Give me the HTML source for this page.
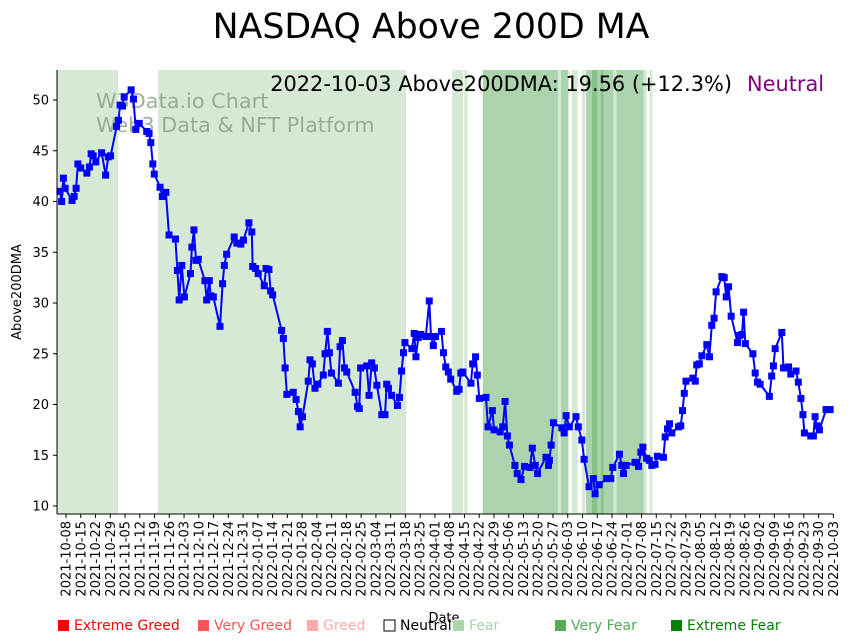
<!DOCTYPE html>
<html><head><meta charset="utf-8"><style>
body{margin:0;background:#fff;font-family:"Liberation Sans","DejaVu Sans",sans-serif}
svg{display:block}
</style></head><body>
<svg id="chart" width="852" height="642" viewBox="0 0 852 642" xmlns="http://www.w3.org/2000/svg" font-family="DejaVu Sans, Liberation Sans, sans-serif">
<text x="431" y="38" font-size="34.7" text-anchor="middle" fill="#000">NASDAQ Above 200D MA</text>
<g id="bands"></g>
<text x="96" y="108" font-size="20.8" fill="#8a9a8a" fill-opacity="0.8">W3Data.io Chart</text>
<text x="96" y="132" font-size="20.8" fill="#8a9a8a" fill-opacity="0.8">Web3 Data &amp; NFT Platform</text>
<g id="series"></g>
<text x="732" y="91" font-size="20.9" text-anchor="end" fill="#000">2022-10-03 Above200DMA: 19.56 (+12.3%)</text>
<text x="747" y="91" font-size="20.9" fill="#800080">Neutral</text>
<g id="axes"></g>
<text transform="translate(21,292) rotate(-90)" font-size="13" text-anchor="middle">Above200DMA</text>
<text x="444" y="622" font-size="13" text-anchor="middle">Date</text>
<g id="legend"></g>
</svg>
<script>
const dayIndex=[-2.1,-1.5,-0.9,-0.3,2.1,2.8,3.5,4.1,5.1,7.2,8.1,8.7,9.4,10.3,12.3,13.7,14.6,15.4,17.5,18.1,18.7,19.5,20.1,22.5,23.3,24.1,25.3,27.9,28.7,29.3,30.0,30.5,32.5,33.3,34.5,35.6,37.8,38.5,39.1,40.0,40.9,43.0,43.5,44.2,44.9,45.7,48.0,48.6,49.5,50.0,50.9,53.2,54.1,54.7,55.5,58.1,59.0,60.4,61.3,63.2,64.2,64.5,65.5,66.4,68.5,69.1,70.1,70.7,71.4,74.5,75.1,75.7,76.3,78.5,79.5,80.3,80.9,81.7,83.7,84.3,85.1,86.0,87.0,88.9,89.5,90.3,91.0,91.7,94.1,94.7,95.5,96.2,97.0,99.9,100.7,101.3,101.8,103.9,104.7,105.6,106.5,107.4,109.1,110.2,110.8,111.4,112.5,114.5,115.2,115.9,116.6,117.1,119.5,120.3,120.9,121.7,122.6,124.3,125.5,126.1,126.9,127.7,129.7,130.4,131.2,132.1,132.9,135.0,135.8,136.4,137.1,139.9,140.5,141.5,142.1,142.8,145.1,145.8,147.3,147.9,150.0,150.9,151.7,152.5,153.2,155.1,155.9,157.2,158.4,160.3,161.1,162.1,162.9,165.8,166.7,167.0,167.6,168.4,171.3,172.1,172.8,173.9,176.2,177.0,178.2,179.0,180.7,182.2,182.8,184.2,186.8,188.2,188.9,191.2,192.0,192.6,193.5,196.6,197.8,198.6,199.3,200.6,201.5,202.4,203.5,204.3,206.4,207.0,207.8,208.5,209.3,211.6,212.4,213.0,213.6,214.2,216.6,217.4,217.9,218.8,219.7,221.4,222.3,223.1,223.9,224.6,226.6,227.4,228.1,228.9,229.8,232.0,232.7,233.5,234.1,234.7,237.3,238.1,238.9,239.8,243.0,243.8,244.4,245.0,247.3,247.9,249.6,250.4,252.2,253.0,253.9,254.6,255.1,257.3,258.2,258.8,259.4,260.3,262.6,264.0];
const values=[41.0,40.0,42.3,41.3,40.1,40.5,41.3,43.7,43.3,42.8,43.4,44.7,44.5,43.9,44.8,42.6,44.4,44.5,47.4,48.0,49.5,49.4,50.3,51.0,50.1,47.1,47.7,46.9,46.7,45.8,43.7,42.7,41.4,40.5,40.9,36.7,36.3,33.2,30.3,33.7,30.6,32.9,35.5,37.2,34.2,34.3,32.2,30.3,32.2,30.7,30.6,27.7,31.9,33.7,34.8,36.5,35.9,35.8,36.2,37.9,37.0,33.6,33.4,32.9,31.7,33.4,33.3,31.2,30.8,27.3,26.5,23.6,21.0,21.2,20.5,19.3,17.8,18.8,22.3,24.4,24.0,21.6,22.0,22.9,25.0,27.2,25.1,23.1,22.1,25.7,26.3,23.6,23.2,21.2,19.8,19.6,23.6,23.8,20.9,24.1,23.6,21.9,19.0,19.0,22.0,21.6,20.9,19.9,20.7,23.3,25.1,26.1,25.5,27.0,24.7,26.6,26.9,26.7,30.2,26.7,25.8,26.7,27.2,25.1,23.7,23.2,22.5,21.3,21.5,23.1,23.2,22.1,24.0,24.7,22.9,20.6,20.7,17.8,19.4,17.5,17.3,17.8,20.3,16.9,16.0,14.0,13.2,12.6,13.9,13.8,15.7,14.0,13.2,14.8,14.0,14.5,16.0,18.2,17.7,17.2,18.9,17.8,18.8,17.8,16.5,14.6,11.9,12.7,11.2,12.1,12.7,12.7,13.8,15.1,14.0,13.2,14.0,14.3,13.9,15.3,15.8,14.7,14.5,14.0,14.1,14.9,14.8,16.8,17.6,18.1,17.2,17.8,17.9,19.4,21.1,22.3,22.6,22.3,23.9,24.0,24.8,25.9,24.7,27.8,28.5,31.1,32.6,32.5,30.6,31.6,28.7,26.1,26.8,26.9,29.1,26.0,25.0,23.1,22.2,22.0,20.8,22.8,23.8,25.5,27.1,23.6,23.7,23.0,23.3,22.2,20.6,19.0,17.2,16.9,16.9,18.8,17.9,17.5,19.5,19.5];
const bandStart=[-3.2,31.8,133.4,137.6,144.0,170.0,171.0,174.7,178.3,179.6,181.6,183.7,184.7,185.7,189.2,190.2,199.5,201.6];
const bandEnd=[18.0,117.5,137.2,138.7,170.0,171.0,173.6,176.8,179.3,181.6,183.7,184.7,185.7,189.2,190.2,200.0,200.6,202.6];
const bandLevel=["fear","fear","fear","fear","very","fear","very","fear","fear","very","strong","very","strong","very","fear","very","fear","fear"];
const tickLabels=["2021-10-08","2021-10-15","2021-10-22","2021-10-29","2021-11-05","2021-11-12","2021-11-19","2021-11-26","2021-12-03","2021-12-10","2021-12-17","2021-12-24","2021-12-31","2022-01-07","2022-01-14","2022-01-21","2022-01-28","2022-02-04","2022-02-11","2022-02-18","2022-02-25","2022-03-04","2022-03-11","2022-03-18","2022-03-25","2022-04-01","2022-04-08","2022-04-15","2022-04-22","2022-04-29","2022-05-06","2022-05-13","2022-05-20","2022-05-27","2022-06-03","2022-06-10","2022-06-17","2022-06-24","2022-07-01","2022-07-08","2022-07-15","2022-07-22","2022-07-29","2022-08-05","2022-08-12","2022-08-19","2022-08-26","2022-09-02","2022-09-09","2022-09-16","2022-09-23","2022-09-30","2022-10-03"];
const yTicks=[10,15,20,25,30,35,40,45,50];
const legendLabels=["Extreme Greed","Very Greed","Greed","Neutral","Fear","Very Fear","Extreme Fear"];
const legendColors=["#ff0000","#ff5555","#ffaaaa","#ffffff","#aad4aa","#55aa55","#008000"];

const NS="http://www.w3.org/2000/svg";
const L=57,R=833,T=70,B=514;
function xScale(i){return 66+i*2.8945;}
function yScale(v){return 506-(v-10)*10.15;}
function mk(tag,attrs,parent){const e=document.createElementNS(NS,tag);for(const k in attrs)e.setAttribute(k,attrs[k]);parent.appendChild(e);return e;}
const bandColors={fear:"#d5e9d5",very:"#acd4ac",strong:"#88c288"};
const bands=document.getElementById('bands');
for(let i=0;i<bandStart.length;i++){
  const x0=Math.max(L,xScale(bandStart[i])),x1=xScale(bandEnd[i]);
  const r=mk('rect',{x:x0,y:T,width:Math.max(0,x1-x0),height:B-T,fill:bandColors[bandLevel[i]]},bands);
  
  
}
const series=document.getElementById('series');
let d="";
for(let i=0;i<values.length;i++){d+=(i?"L":"M")+xScale(dayIndex[i]).toFixed(1)+","+yScale(values[i]).toFixed(1);}
const line=mk('path',{d:d,fill:"none",stroke:"#0000ff","stroke-width":2,"stroke-linejoin":"round"},series);


for(let i=0;i<values.length;i++){
  const m=mk('rect',{x:xScale(dayIndex[i])-3.5,y:yScale(values[i])-3.5,width:7,height:7,fill:"#0000ff"},series);
  
  
}
const axes=document.getElementById('axes');
mk('line',{x1:L,y1:T,x2:L,y2:B,stroke:"#000","stroke-width":1},axes);
mk('line',{x1:L,y1:B,x2:R,y2:B,stroke:"#000","stroke-width":1},axes);
yTicks.forEach(v=>{
  const y=yScale(v);
  mk('line',{x1:L-4,y1:y,x2:L,y2:y,stroke:"#000"},axes);
  const t=mk('text',{x:L-8,y:y+4.5,"font-size":13,"text-anchor":"end"},axes);
  t.textContent=v;
  
  
});
tickLabels.forEach((s,i)=>{
  const x=66+i*14.757;
  mk('line',{x1:x,y1:B,x2:x,y2:B+4,stroke:"#000"},axes);
  const t=mk('text',{transform:"translate("+(x+4.5)+","+(B+7)+") rotate(-90)","font-size":13,"text-anchor":"end"},axes);
  t.textContent=s;
  
  
});
const legend=document.getElementById('legend');
const legendX=[57,197,306,383,452,554,670];
legendLabels.forEach((s,i)=>{
  const g=mk('g',{},legend);
  
  
  mk('rect',{x:legendX[i]+1,y:620,width:11,height:11,fill:legendColors[i],stroke:i==3?"#000":"none","stroke-width":1},g);
  const t=mk('text',{x:legendX[i]+17,y:630,"font-size":14,fill:i==3?"#000":legendColors[i]},g);
  t.textContent=s;
});
</script>
</body></html>
